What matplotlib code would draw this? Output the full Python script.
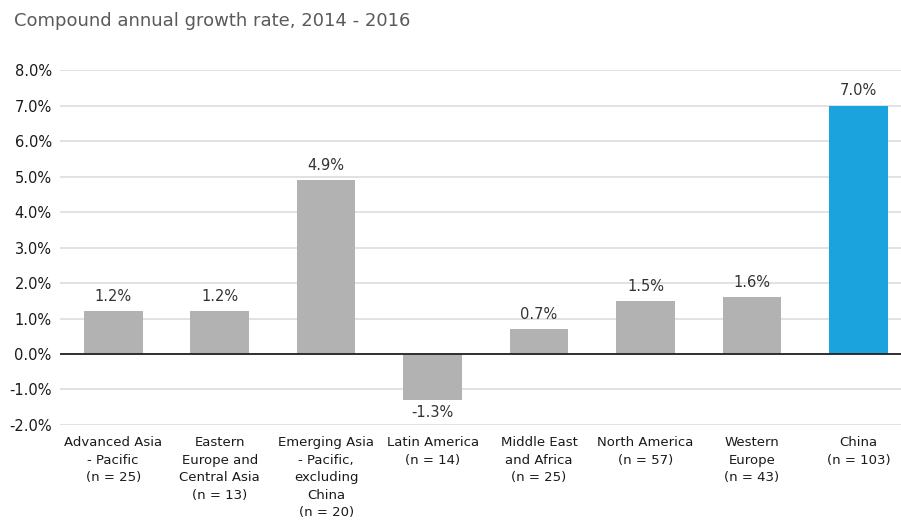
import matplotlib.pyplot as plt
from matplotlib.ticker import FuncFormatter

regions = ["Advanced Asia\n- Pacific\n(n = 25)",
           "Eastern\nEurope and\nCentral Asia\n(n = 13)",
           "Emerging Asia\n- Pacific,\nexcluding\nChina\n(n = 20)",
           "Latin America\n(n = 14)",
           "Middle East\nand Africa\n(n = 25)",
           "North America\n(n = 57)",
           "Western\nEurope\n(n = 43)",
           "China\n(n = 103)"]
cagr = [1.2, 1.2, 4.9, -1.3, 0.7, 1.5, 1.6, 7.0]
labels = ["1.2%", "1.2%", "4.9%", "-1.3%", "0.7%", "1.5%", "1.6%", "7.0%"]
colors = ["#b2b2b2"] * 7 + ["#1aa3dc"]

plt.rcParams['font.family'] = "DejaVu Sans"

fig = plt.figure(figsize=(9.01, 5.23), dpi=100)
ax = fig.add_axes([0.0666, 0.1874, 0.9334, 0.6786])

x = list(range(len(cagr)))
ax.bar(x, cagr, width=0.55, color=colors, zorder=3)

for xi, v, lab in zip(x, cagr, labels):
    if v >= 0:
        ax.text(xi, v + 0.2, lab, ha='center', va='bottom', fontsize=10.5,
                color='#333333')
    else:
        ax.text(xi, v - 0.15, lab, ha='center', va='top', fontsize=10.5,
                color='#333333')

ax.set_ylim(-2.0, 8.0)
ax.set_xlim(-0.5, 7.4)
ax.set_yticks([-2, -1, 0, 1, 2, 3, 4, 5, 6, 7, 8])
ax.yaxis.set_major_formatter(FuncFormatter(lambda v, p: "%.1f%%" % v))
ax.grid(axis='y', color='#dddddd', linewidth=1.2, zorder=0)
ax.axhline(0, color='#222222', linewidth=1.3, zorder=4)

ax.set_xticks(x)
ax.set_xticklabels(regions, fontsize=9.5, color='#1a1a1a', linespacing=1.45,
                   va='top')
ax.tick_params(axis='x', length=0, pad=8)
ax.tick_params(axis='y', length=0, pad=6, labelsize=10.5, labelcolor='#1a1a1a')
for s in ax.spines.values():
    s.set_visible(False)

fig.text(0.015, 0.96, "Compound annual growth rate, 2014 - 2016",
         fontsize=13, color='#5a5a5a', ha='left', va='center')

fig.savefig("out.png", dpi=100)
